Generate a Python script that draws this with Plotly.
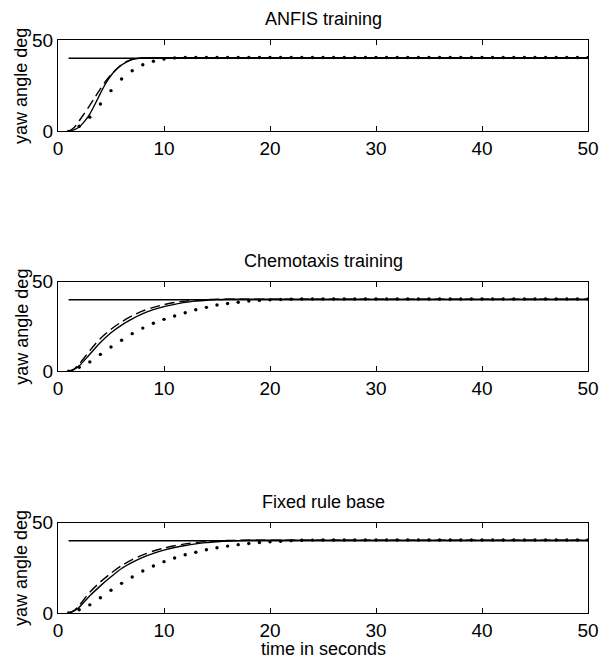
import plotly.graph_objects as go

# ---------------- data ----------------
ref_t = [1, 50]
ref_val = [40, 40]

dot_t = list(range(1, 51))

# Panel 1: ANFIS training
anfis_line_t = [1, 1.5, 2, 2.5, 3, 3.5, 4, 4.5, 5, 5.5, 6, 6.5, 7, 7.5, 8, 9, 10, 12, 15, 20, 30, 40, 50]
anfis_solid = [0, 0.8, 2.4, 5.5, 9.5, 15.0, 20.8, 26.3, 30.6, 33.8, 36.3, 38.1, 39.3, 39.9, 40.2,
               40.3, 40.3, 40.3, 40.3, 40.3, 40.3, 40.3, 40.3]
anfis_dash = [0, 2.0, 5.8, 10.0, 14.3, 18.8, 23.3, 27.5, 31.0, 34.0, 36.5, 38.3, 39.5, 40.0, 40.2,
              40.3, 40.3, 40.3, 40.3, 40.3, 40.3, 40.3, 40.3]
anfis_dot = [0, 2.8, 7.8, 15.0, 22.3, 28.7, 33.2, 36.5, 38.4, 39.6, 40.2, 40.4, 40.4, 40.4, 40.4,
             40.4, 40.4, 40.4, 40.4, 40.4, 40.4, 40.4, 40.4, 40.4, 40.4, 40.4, 40.4, 40.4, 40.4, 40.4,
             40.4, 40.4, 40.4, 40.4, 40.4, 40.4, 40.4, 40.4, 40.4, 40.4, 40.4, 40.4, 40.4, 40.4, 40.4,
             40.4, 40.4, 40.4, 40.4, 40.4]

# Panel 2: Chemotaxis training
chem_line_t = [1, 1.5, 2, 3, 4, 5, 6, 7, 8, 9, 10, 11, 12, 13, 14, 15, 16, 17, 18, 20, 25, 30, 40, 50]
chem_solid = [0, 0.9, 3.0, 9.5, 16.0, 21.5, 25.8, 29.3, 32.2, 34.4, 36.1, 37.4, 38.5, 39.2, 39.7,
              40.0, 40.2, 40.3, 40.3, 40.3, 40.3, 40.3, 40.3, 40.3]
chem_dash = [0, 1.2, 4.0, 11.5, 18.3, 23.5, 27.6, 31.0, 33.7, 35.7, 37.2, 38.4, 39.2, 39.7, 40.0,
             40.2, 40.3, 40.3, 40.3, 40.3, 40.3, 40.3, 40.3, 40.3]
chem_dot = [0, 2.2, 5.2, 9.4, 13.5, 17.3, 21.0, 24.1, 26.8, 29.0, 30.9, 32.7, 34.4, 35.7, 37.0,
            37.9, 38.6, 39.2, 39.6, 39.9, 40.1, 40.3, 40.4, 40.4, 40.4, 40.4, 40.4, 40.4, 40.4, 40.4,
            40.4, 40.4, 40.4, 40.4, 40.4, 40.4, 40.4, 40.4, 40.4, 40.4, 40.4, 40.4, 40.4, 40.4, 40.4,
            40.4, 40.4, 40.4, 40.4, 40.4]

# Panel 3: Fixed rule base
fixed_line_t = [1, 1.5, 2, 3, 4, 5, 6, 7, 8, 9, 10, 11, 12, 13, 14, 15, 16, 17, 18, 19, 20, 25, 30, 40, 50]
fixed_solid = [0, 1.0, 3.2, 9.5, 15.0, 20.0, 24.6, 28.0, 30.8, 33.0, 34.8, 36.2, 37.3, 38.2, 38.9,
               39.4, 39.8, 40.0, 40.2, 40.3, 40.3, 40.3, 40.3, 40.3, 40.3]
fixed_dash = [0, 1.3, 4.2, 11.5, 17.2, 22.0, 26.2, 29.5, 32.1, 34.3, 35.9, 37.2, 38.2, 39.0, 39.5,
              39.9, 40.1, 40.2, 40.3, 40.3, 40.3, 40.3, 40.3, 40.3, 40.3]
fixed_dot = [0, 1.8, 4.5, 8.4, 12.6, 16.4, 19.9, 23.2, 26.0, 28.4, 30.4, 32.2, 33.6, 35.0, 36.1,
             37.0, 37.8, 38.4, 39.0, 39.4, 39.7, 40.0, 40.2, 40.3, 40.4, 40.4, 40.4, 40.4, 40.4, 40.4,
             40.4, 40.4, 40.4, 40.4, 40.4, 40.4, 40.4, 40.4, 40.4, 40.4, 40.4, 40.4, 40.4, 40.4, 40.4,
             40.4, 40.4, 40.4, 40.4, 40.4]

titles = ["ANFIS training", "Chemotaxis training", "Fixed rule base"]
y_label = "yaw angle deg"
x_label = "time in seconds"
x_ticks = [0, 10, 20, 30, 40, 50]
y_ticks = [0, 50]

panels = [
    (anfis_line_t, anfis_solid, anfis_dash, anfis_dot),
    (chem_line_t, chem_solid, chem_dash, chem_dot),
    (fixed_line_t, fixed_solid, fixed_dash, fixed_dot),
]

# ---------------- figure ----------------
W, H = 611, 661
ml, mr, mt, mb = 57.5, 13.5, 40, 47.5
plot_h = H - mt - mb
panel_px = [(40, 131.5), (282, 371.5), (523, 613.5)]
domains = [[(H - mb - b) / plot_h, (H - mb - t) / plot_h] for (t, b) in panel_px]

FONT = "Arial, Liberation Sans, Helvetica, sans-serif"
fig = go.Figure()

for i, (lt, solid, dash, dot) in enumerate(panels):
    xa = "x" if i == 0 else f"x{i+1}"
    ya = "y" if i == 0 else f"y{i+1}"
    fig.add_trace(go.Scatter(x=ref_t, y=ref_val, mode="lines", xaxis=xa, yaxis=ya,
                             line=dict(color="black", width=1.5), showlegend=False))
    fig.add_trace(go.Scatter(x=lt, y=solid, mode="lines", xaxis=xa, yaxis=ya,
                             line=dict(color="black", width=1.4, shape="spline", smoothing=0.8),
                             showlegend=False))
    fig.add_trace(go.Scatter(x=lt, y=dash, mode="lines", xaxis=xa, yaxis=ya,
                             line=dict(color="black", width=1.4, dash="10px,5px",
                                       shape="spline", smoothing=0.8),
                             showlegend=False))
    fig.add_trace(go.Scatter(x=dot_t, y=dot, mode="markers", xaxis=xa, yaxis=ya,
                             marker=dict(color="black", size=3.4), showlegend=False))

axis_common = dict(showgrid=False, zeroline=False, showline=True, linecolor="black",
                   linewidth=1.3, mirror="ticks", ticks="inside", ticklen=5,
                   tickcolor="black", tickwidth=1.2,
                   tickfont=dict(family=FONT, size=19, color="black"))

layout = dict(width=W, height=H, margin=dict(l=ml, r=mr, t=mt, b=mb),
              paper_bgcolor="white", plot_bgcolor="white", showlegend=False)

annotations = []
for i in range(3):
    xk = "xaxis" if i == 0 else f"xaxis{i+1}"
    yk = "yaxis" if i == 0 else f"yaxis{i+1}"
    ya = "y" if i == 0 else f"y{i+1}"
    xa = "x" if i == 0 else f"x{i+1}"
    layout[xk] = dict(axis_common, domain=[0, 1], range=[0, 50], tickvals=x_ticks,
                      anchor=ya)
    layout[yk] = dict(axis_common, domain=domains[i], range=[0, 50], tickvals=y_ticks,
                      anchor=xa)
    annotations.append(dict(text=titles[i], xref="paper", yref="paper", x=0.5,
                            y=domains[i][1], xanchor="center", yanchor="bottom", yshift=9,
                            showarrow=False, font=dict(family=FONT, size=18, color="black")))
    annotations.append(dict(text=y_label, xref="paper", yref="paper",
                            x=(20 - ml) / (W - ml - mr), y=(domains[i][0] + domains[i][1]) / 2,
                            xanchor="center", yanchor="middle", textangle=-90,
                            showarrow=False, font=dict(family=FONT, size=18, color="black")))

annotations.append(dict(text=x_label, xref="paper", yref="paper", x=0.5, y=0,
                        xanchor="center", yanchor="top", yshift=-24, showarrow=False,
                        font=dict(family=FONT, size=18, color="black")))
layout["annotations"] = annotations
fig.update_layout(**layout)

fig.write_html("out.html")
